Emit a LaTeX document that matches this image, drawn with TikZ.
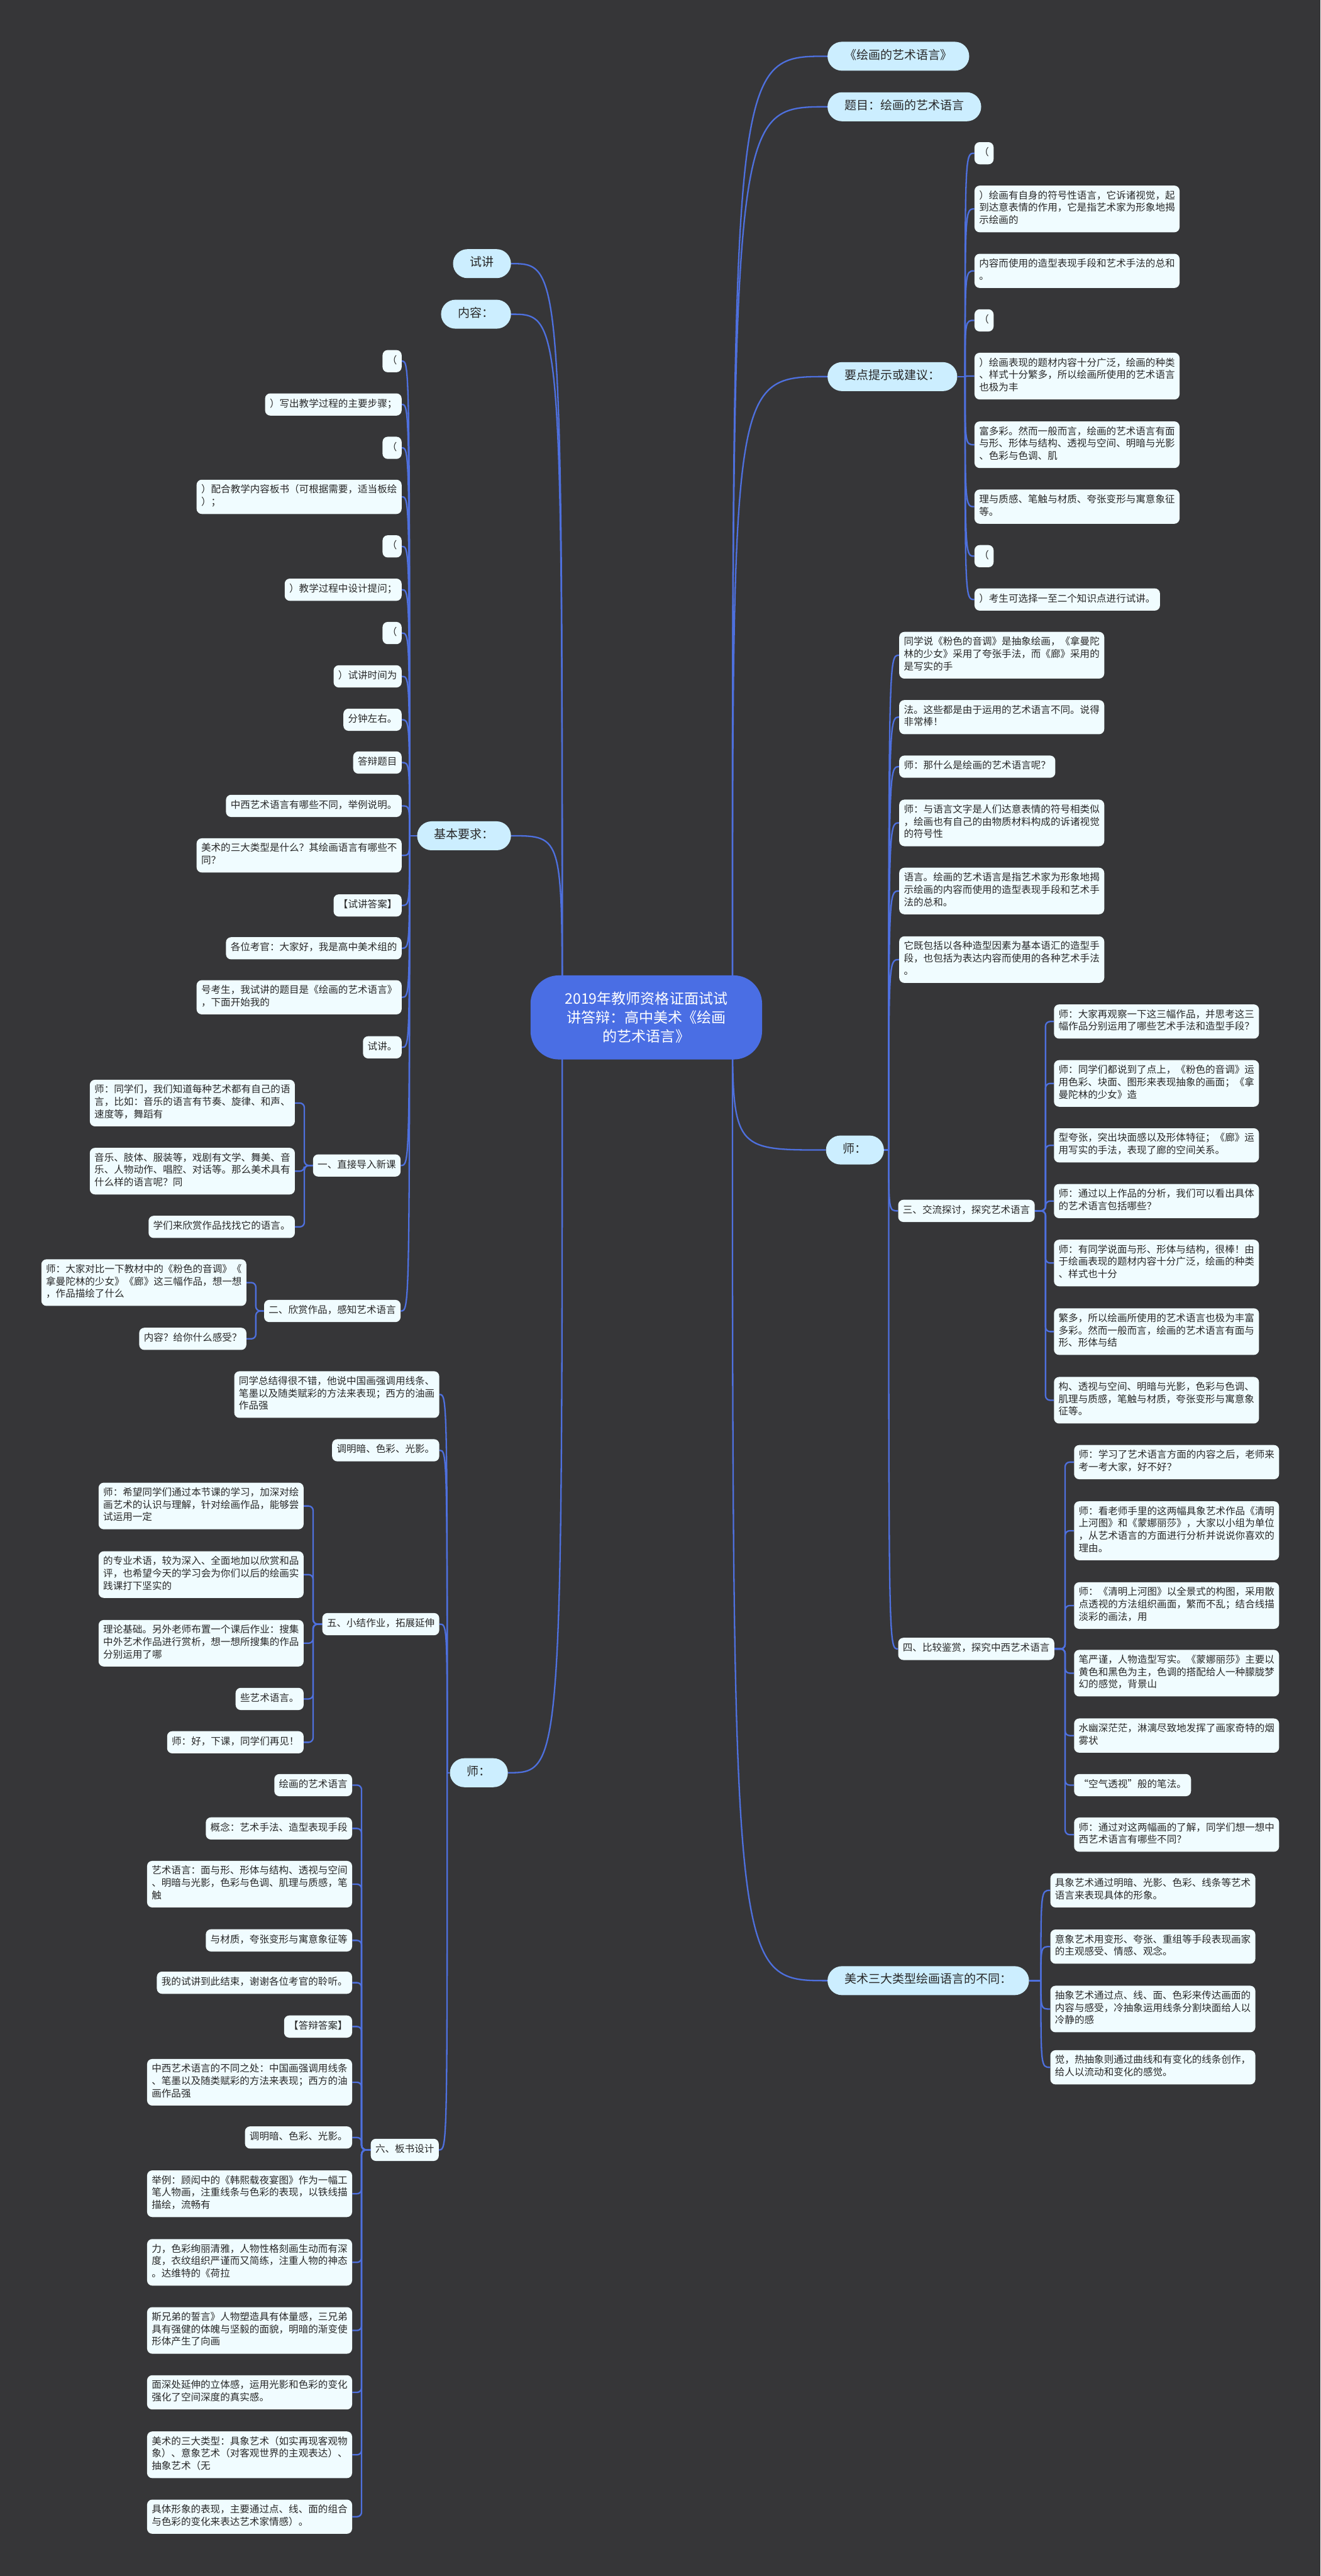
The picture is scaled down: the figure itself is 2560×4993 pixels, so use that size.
\documentclass[tikz,border=0pt]{standalone}
\usepackage{fontspec}
\setmainfont{Noto Sans CJK SC}
\newfontfamily\cjk{Noto Sans CJK SC}
\usepackage{tikz}
\usetikzlibrary{backgrounds}

\definecolor{bgc}{RGB}{54,54,56}
\definecolor{linkc}{RGB}{78,112,222}
\definecolor{rootc}{RGB}{74,110,228}
\definecolor{topc}{RGB}{204,238,255}
\definecolor{leafc}{RGB}{240,252,255}
\definecolor{textc}{RGB}{40,40,40}

\newcommand\leaffont{\cjk\fontsize{10.8pt}{13.66pt}\selectfont}
\newcommand\topicfont{\cjk\fontsize{13.2pt}{16pt}\selectfont}
\newcommand\rootfont{\cjk\fontsize{16pt}{20.5pt}\selectfont}

\begin{document}
\begin{tikzpicture}[
  x=0.02cm, y=-0.02cm,
  root/.style={fill=rootc, text=white, rounded corners=1.1cm, align=center, font=\rootfont,
               minimum width=8.98cm, minimum height=3.26cm},
  topic/.style={fill=topc, text=textc, rounded corners=0.56cm, font=\topicfont,
                inner xsep=0.66cm, inner ysep=0.28cm, execute at begin node=\strut},
  leaf/.style={fill=leafc, text=textc, rounded corners=0.2cm, align=left, font=\leaffont,
               inner xsep=0.18cm, inner ysep=0.19cm,
               execute at begin node=\strut, execute at end node=\strut},
  link/.style={draw=linkc, line width=1.6pt},
  bracket/.style={link, rounded corners=5pt},
]
\useasboundingbox (0,0) rectangle (2560,4993);

% center
\node[root] (root) at (1253,1972) {2019年教师资格证面试试\\讲答辩：高中美术《绘画\\的艺术语言》};

% topics (right)
\node[topic, anchor=west] (book) at (1604,109) {《绘画的艺术语言》};
\node[topic, anchor=west] (title) at (1604,207) {题目：绘画的艺术语言};
\node[topic, anchor=west] (tips) at (1604,730) {要点提示或建议：};
\node[topic, anchor=west] (shiR) at (1601,2229) {师：};
\node[topic, anchor=west] (kinds) at (1604,3839) {美术三大类型绘画语言的不同：};
% topics (left)
\node[topic, anchor=east] (trial) at (991,511) {试讲};
\node[topic, anchor=east] (content) at (991,609) {内容：};
\node[topic, anchor=east] (basic) at (991,1620) {基本要求：};
\node[topic, anchor=east] (shiL) at (985,3436) {师：};

% tips
\node[leaf, anchor=west] (y1) at (1889,297) {（};
\node[leaf, anchor=west] (y2) at (1889,405) {）绘画有自身的符号性语言，它诉诸视觉，起\\到达意表情的作用，它是指艺术家为形象地揭\\示绘画的};
\node[leaf, anchor=west] (y3) at (1889,525) {内容而使用的造型表现手段和艺术手法的总和\\。};
\node[leaf, anchor=west] (y4) at (1889,621) {（};
\node[leaf, anchor=west] (y5) at (1889,729) {）绘画表现的题材内容十分广泛，绘画的种类\\、样式十分繁多，所以绘画所使用的艺术语言\\也极为丰};
\node[leaf, anchor=west] (y6) at (1889,862) {富多彩。然而一般而言，绘画的艺术语言有面\\与形、形体与结构、透视与空间、明暗与光影\\、色彩与色调、肌};
\node[leaf, anchor=west] (y7) at (1889,982) {理与质感、笔触与材质、夸张变形与寓意象征\\等。};
\node[leaf, anchor=west] (y8) at (1889,1078) {（};
\node[leaf, anchor=west] (y9) at (1889,1162) {）考生可选择一至二个知识点进行试讲。};

% teacher (right)
\node[leaf, anchor=west] (c1) at (1743,1270) {同学说《粉色的音调》是抽象绘画，《拿曼陀\\林的少女》采用了夸张手法，而《廊》采用的\\是写实的手};
\node[leaf, anchor=west] (c2) at (1743,1390) {法。这些都是由于运用的艺术语言不同。说得\\非常棒！};
\node[leaf, anchor=west] (c3) at (1743,1486) {师：那什么是绘画的艺术语言呢？};
\node[leaf, anchor=west] (c4) at (1743,1595) {师：与语言文字是人们达意表情的符号相类似\\，绘画也有自己的由物质材料构成的诉诸视觉\\的符号性};
\node[leaf, anchor=west] (c5) at (1743,1727) {语言。绘画的艺术语言是指艺术家为形象地揭\\示绘画的内容而使用的造型表现手段和艺术手\\法的总和。};
\node[leaf, anchor=west] (c6) at (1743,1860) {它既包括以各种造型因素为基本语汇的造型手\\段，也包括为表达内容而使用的各种艺术手法\\。};
\node[leaf, anchor=west] (san) at (1741,2347) {三、交流探讨，探究艺术语言};
\node[leaf, anchor=west] (si) at (1741,3196) {四、比较鉴赏，探究中西艺术语言};

% part three
\node[leaf, anchor=west] (d1) at (2043,1980) {师：大家再观察一下这三幅作品，并思考这三\\幅作品分别运用了哪些艺术手法和造型手段？};
\node[leaf, anchor=west] (d2) at (2043,2100) {师：同学们都说到了点上，《粉色的音调》运\\用色彩、块面、图形来表现抽象的画面；《拿\\曼陀林的少女》造};
\node[leaf, anchor=west] (d3) at (2043,2220) {型夸张，突出块面感以及形体特征；《廊》运\\用写实的手法，表现了廊的空间关系。};
\node[leaf, anchor=west] (d4) at (2043,2328) {师：通过以上作品的分析，我们可以看出具体\\的艺术语言包括哪些？};
\node[leaf, anchor=west] (d5) at (2043,2448) {师：有同学说面与形、形体与结构，很棒！由\\于绘画表现的题材内容十分广泛，绘画的种类\\、样式也十分};
\node[leaf, anchor=west] (d6) at (2043,2581) {繁多，所以绘画所使用的艺术语言也极为丰富\\多彩。然而一般而言，绘画的艺术语言有面与\\形、形体与结};
\node[leaf, anchor=west] (d7) at (2043,2714) {构、透视与空间、明暗与光影，色彩与色调、\\肌理与质感，笔触与材质，夸张变形与寓意象\\征等。};

% part four
\node[leaf, anchor=west] (e1) at (2082,2834) {师：学习了艺术语言方面的内容之后，老师来\\考一考大家，好不好？};
\node[leaf, anchor=west] (e2) at (2082,2967) {师：看老师手里的这两幅具象艺术作品《清明\\上河图》和《蒙娜丽莎》，大家以小组为单位\\，从艺术语言的方面进行分析并说说你喜欢的\\理由。};
\node[leaf, anchor=west] (e3) at (2082,3112) {师：《清明上河图》以全景式的构图，采用散\\点透视的方法组织画面，繁而不乱；结合线描\\淡彩的画法，用};
\node[leaf, anchor=west] (e4) at (2082,3243) {笔严谨，人物造型写实。《蒙娜丽莎》主要以\\黄色和黑色为主，色调的搭配给人一种朦胧梦\\幻的感觉，背景山};
\node[leaf, anchor=west] (e5) at (2082,3364) {水幽深茫茫，淋漓尽致地发挥了画家奇特的烟\\雾状};
\node[leaf, anchor=west] (e6) at (2082,3460) {“空气透视”般的笔法。};
\node[leaf, anchor=west] (e7) at (2082,3556) {师：通过对这两幅画的了解，同学们想一想中\\西艺术语言有哪些不同？};

% three kinds
\node[leaf, anchor=west] (f1) at (2036,3664) {具象艺术通过明暗、光影、色彩、线条等艺术\\语言来表现具体的形象。};
\node[leaf, anchor=west] (f2) at (2036,3773) {意象艺术用变形、夸张、重组等手段表现画家\\的主观感受、情感、观念。};
\node[leaf, anchor=west] (f3) at (2036,3894) {抽象艺术通过点、线、面、色彩来传达画面的\\内容与感受，冷抽象运用线条分割块面给人以\\冷静的感};
\node[leaf, anchor=west] (f4) at (2036,4007) {觉，热抽象则通过曲线和有变化的线条创作，\\给人以流动和变化的感觉。};

% basic requirements
\node[leaf, anchor=east] (g1) at (779,700) {（};
\node[leaf, anchor=east] (g2) at (779,784) {）写出教学过程的主要步骤；};
\node[leaf, anchor=east] (g3) at (779,868) {（};
\node[leaf, anchor=east] (g4) at (779,963) {）配合教学内容板书（可根据需要，适当板绘\\）；};
\node[leaf, anchor=east] (g5) at (779,1059) {（};
\node[leaf, anchor=east] (g6) at (779,1143) {）教学过程中设计提问；};
\node[leaf, anchor=east] (g7) at (779,1227) {（};
\node[leaf, anchor=east] (g8) at (779,1311) {）试讲时间为};
\node[leaf, anchor=east] (g9) at (779,1395) {分钟左右。};
\node[leaf, anchor=east] (g10) at (779,1478) {答辩题目};
\node[leaf, anchor=east] (g11) at (779,1562) {中西艺术语言有哪些不同，举例说明。};
\node[leaf, anchor=east] (g12) at (779,1658) {美术的三大类型是什么？其绘画语言有哪些不\\同？};
\node[leaf, anchor=east] (g13) at (779,1755) {【试讲答案】};
\node[leaf, anchor=east] (g14) at (779,1838) {各位考官：大家好，我是高中美术组的};
\node[leaf, anchor=east] (g15) at (779,1933) {号考生，我试讲的题目是《绘画的艺术语言》\\，下面开始我的};
\node[leaf, anchor=east] (g16) at (779,2030) {试讲。};
\node[leaf, anchor=east] (yi) at (777,2259) {一、直接导入新课};
\node[leaf, anchor=east] (er) at (777,2541) {二、欣赏作品，感知艺术语言};

% part one and two
\node[leaf, anchor=east] (h1) at (572,2138) {师：同学们，我们知道每种艺术都有自己的语\\言，比如：音乐的语言有节奏、旋律、和声、\\速度等，舞蹈有};
\node[leaf, anchor=east] (h2) at (572,2270) {音乐、肢体、服装等，戏剧有文学、舞美、音\\乐、人物动作、唱腔、对话等。那么美术具有\\什么样的语言呢？同};
\node[leaf, anchor=east] (h3) at (572,2378) {学们来欣赏作品找找它的语言。};
\node[leaf, anchor=east] (i1) at (478,2486) {师：大家对比一下教材中的《粉色的音调》《\\拿曼陀林的少女》《廊》这三幅作品，想一想\\，作品描绘了什么};
\node[leaf, anchor=east] (i2) at (478,2595) {内容？给你什么感受？};

% teacher (left)
\node[leaf, anchor=east] (j1) at (852,2703) {同学总结得很不错，他说中国画强调用线条、\\笔墨以及随类赋彩的方法来表现；西方的油画\\作品强};
\node[leaf, anchor=east] (j2) at (852,2811) {调明暗、色彩、光影。};
\node[leaf, anchor=east] (wu) at (852,3148) {五、小结作业，拓展延伸};
\node[leaf, anchor=east] (liu) at (851,4167) {六、板书设计};

% part five
\node[leaf, anchor=east] (k1) at (589,2919) {师：希望同学们通过本节课的学习，加深对绘\\画艺术的认识与理解，针对绘画作品，能够尝\\试运用一定};
\node[leaf, anchor=east] (k2) at (589,3052) {的专业术语，较为深入、全面地加以欣赏和品\\评，也希望今天的学习会为你们以后的绘画实\\践课打下坚实的};
\node[leaf, anchor=east] (k3) at (589,3185) {理论基础。另外老师布置一个课后作业：搜集\\中外艺术作品进行赏析，想一想所搜集的作品\\分别运用了哪};
\node[leaf, anchor=east] (k4) at (589,3293) {些艺术语言。};
\node[leaf, anchor=east] (k5) at (589,3377) {师：好，下课，同学们再见！};

% part six
\node[leaf, anchor=east] (l1) at (683,3460) {绘画的艺术语言};
\node[leaf, anchor=east] (l2) at (683,3544) {概念：艺术手法、造型表现手段};
\node[leaf, anchor=east] (l3) at (683,3652) {艺术语言：面与形、形体与结构、透视与空间\\、明暗与光影，色彩与色调、肌理与质感，笔\\触};
\node[leaf, anchor=east] (l4) at (683,3761) {与材质，夸张变形与寓意象征等};
\node[leaf, anchor=east] (l5) at (683,3843) {我的试讲到此结束，谢谢各位考官的聆听。};
\node[leaf, anchor=east] (l6) at (683,3928) {【答辩答案】};
\node[leaf, anchor=east] (l7) at (683,4036) {中西艺术语言的不同之处：中国画强调用线条\\、笔墨以及随类赋彩的方法来表现；西方的油\\画作品强};
\node[leaf, anchor=east] (l8) at (683,4143) {调明暗、色彩、光影。};
\node[leaf, anchor=east] (l9) at (683,4252) {举例：顾闳中的《韩熙载夜宴图》作为一幅工\\笔人物画，注重线条与色彩的表现，以铁线描\\描绘，流畅有};
\node[leaf, anchor=east] (l10) at (683,4385) {力，色彩绚丽清雅，人物性格刻画生动而有深\\度，衣纹组织严谨而又简练，注重人物的神态\\。达维特的《荷拉};
\node[leaf, anchor=east] (l11) at (683,4517) {斯兄弟的誓言》人物塑造具有体量感，三兄弟\\具有强健的体魄与坚毅的面貌，明暗的渐变使\\形体产生了向画};
\node[leaf, anchor=east] (l12) at (683,4637) {面深处延伸的立体感，运用光影和色彩的变化\\强化了空间深度的真实感。};
\node[leaf, anchor=east] (l13) at (683,4758) {美术的三大类型：具象艺术（如实再现客观物\\象）、意象艺术（对客观世界的主观表达）、\\抽象艺术（无};
\node[leaf, anchor=east] (l14) at (683,4878) {具体形象的表现，主要通过点、线、面的组合\\与色彩的变化来表达艺术家情感）。};

% connectors
\begin{scope}[on background layer]
\fill[bgc] (0,0) rectangle (2560,4993);
\coordinate (sr) at (1420,1972);
\coordinate (sl) at (1090,1972);
\foreach \n in {book,title,tips,shiR,kinds}
  \draw[link] (sr) .. controls (sr |- \n.west) .. (\n.west);
\foreach \n in {trial,content,basic,shiL}
  \draw[link] (sl) .. controls (sl |- \n.east) .. (\n.east);
% topic trunks
\coordinate (tipsT) at (1871,730);
\draw[link] (tips.east) -- (tipsT);
\foreach \i in {1,...,9}
  \draw[link] (tipsT) .. controls (tipsT |- y\i.west) .. (y\i.west);
\coordinate (shiRT) at (1723,2229);
\draw[link] (shiR.east) -- (shiRT);
\foreach \n in {c1,c2,c3,c4,c5,c6,san,si}
  \draw[link] (shiRT) .. controls (shiRT |- \n.west) .. (\n.west);
\coordinate (kindsT) at (2018,3839);
\draw[link] (kinds.east) -- (kindsT);
\foreach \i in {1,...,4}
  \draw[link] (kindsT) .. controls (kindsT |- f\i.west) .. (f\i.west);
\coordinate (basicT) at (794,1620);
\draw[link] (basic.west) -- (basicT);
\foreach \n in {g1,g2,g3,g4,g5,g6,g7,g8,g9,g10,g11,g12,g13,g14,g15,g16,yi,er}
  \draw[link] (basicT) .. controls (basicT |- \n.east) .. (\n.east);
\coordinate (shiLT) at (867,3436);
\draw[link] (shiL.west) -- (shiLT);
\foreach \n in {j1,j2,wu,liu}
  \draw[link] (shiLT) .. controls (shiLT |- \n.east) .. (\n.east);
% brackets
\coordinate (sanT) at (2027,2347);
\foreach \i in {1,...,7} \draw[bracket] (san.east) -- (sanT) |- (d\i.west);
\coordinate (siT) at (2065,3196);
\foreach \i in {1,...,7} \draw[bracket] (si.east) -- (siT) |- (e\i.west);
\coordinate (yiT) at (590,2259);
\foreach \i in {1,2,3} \draw[bracket] (yi.west) -- (yiT) |- (h\i.east);
\coordinate (erT) at (496,2541);
\foreach \i in {1,2} \draw[bracket] (er.west) -- (erT) |- (i\i.east);
\coordinate (wuT) at (607,3148);
\foreach \i in {1,...,5} \draw[bracket] (wu.west) -- (wuT) |- (k\i.east);
\coordinate (liuT) at (701,4167);
\foreach \i in {1,...,14} \draw[bracket] (liu.west) -- (liuT) |- (l\i.east);
\end{scope}
\end{tikzpicture}
\end{document}
